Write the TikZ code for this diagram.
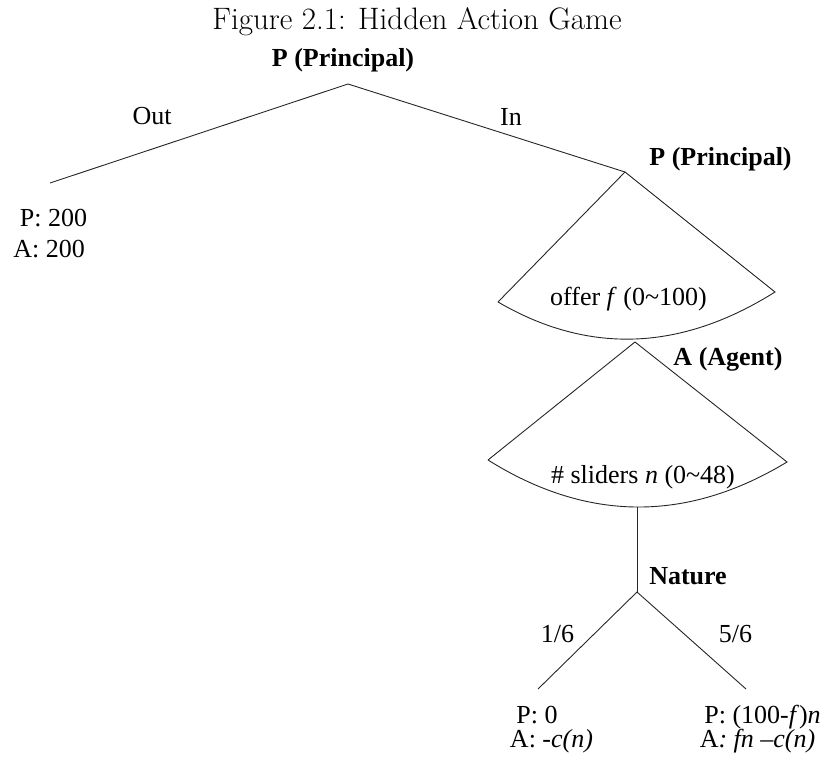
\documentclass[tikz,border=0pt]{standalone}
\usepackage{fontspec}
\newfontfamily\tnr{Liberation Serif}
\usetikzlibrary{
	positioning,
	calc
}

\begin{document}
\begin{tikzpicture}[x=1pt,y=-1pt,
		branch/.style={line width=0.9pt,black!85},
		lbl/.style={inner sep=0pt,anchor=base,font=\tnr\fontsize{26}{30}\selectfont},
		player/.style={lbl,font=\tnr\bfseries\fontsize{26}{30}\selectfont}]
		
		\useasboundingbox (0,0) rectangle (822,762);
		
		\node[inner sep=0pt,anchor=base,font=\fontsize{31}{36}\selectfont] (title) at (417,30) {Figure 2.1: Hidden Action Game};
		
		% tree vertices
		\coordinate (root) at (348,84);
		\coordinate (out) at (50,183);
		\coordinate (offer) at (625,172);
		\coordinate (offerL) at (498,302);
		\coordinate (offerR) at (775,292);
		\coordinate (agent) at (635,342);
		\coordinate (agentL) at (488,460);
		\coordinate (agentR) at (787,462);
		\coordinate (effort) at (637,507);
		\coordinate (nature) at (637,592);
		\coordinate (fail) at (538,689);
		\coordinate (succ) at (746,689);
		
		% first move
		\draw[branch] (out) -- (root) -- (offer);
		\node[lbl] (outlbl) at (152,125) {Out};
		\node[lbl] (inlbl) at (511,126) {In};
		\node[player] (rootlbl) at (343,67) {P (Principal)};
		\node[lbl] (outP) at (53.5,227) {P: 200};
		\node[lbl] (outA) at (49,258) {A: 200};
		
		% contract offer
		\draw[branch] (offerL) -- (offer) -- (offerR)
		.. controls (680.7,351.3) and (588.3,354.7) .. (offerL);
		\node[player] (offerlbl) at (720.5,166) {P (Principal)};
		\node[lbl] (offertxt) at (628.5,305) {offer \textit{f} (0\textasciitilde100)};
		
		% effort choice
		\draw[branch] (agentL) -- (agent) -- (agentR)
		.. controls (686.7,522.7) and (587,522) .. (agentL);
		\node[player] (agentlbl) at (728,365) {A (Agent)};
		\node[lbl] (efforttxt) at (643,483) {\# sliders \textit{n} (0\textasciitilde48)};
		
		% nature
		\draw[branch] (effort) -- (nature);
		\draw[branch] (fail) -- (nature) -- (succ);
		\node[player] (naturelbl) at (688,584) {Nature};
		\node[lbl] (plow) at (557.5,642) {1/6};
		\node[lbl] (phigh) at (735.5,642) {5/6};
		\node[lbl] (failP) at (537,723) {P: 0};
		\node[lbl] (failA) at (551.5,747) {A: \textit{-c(n)}};
		\node[lbl] (succP) at (762.5,723) {P: (100-\textit{f})\textit{n}};
		\node[lbl] (succA) at (757.5,747) {A\textit{: fn} \textendash\textit{c(n)}};
		
	\end{tikzpicture}
\end{document}
